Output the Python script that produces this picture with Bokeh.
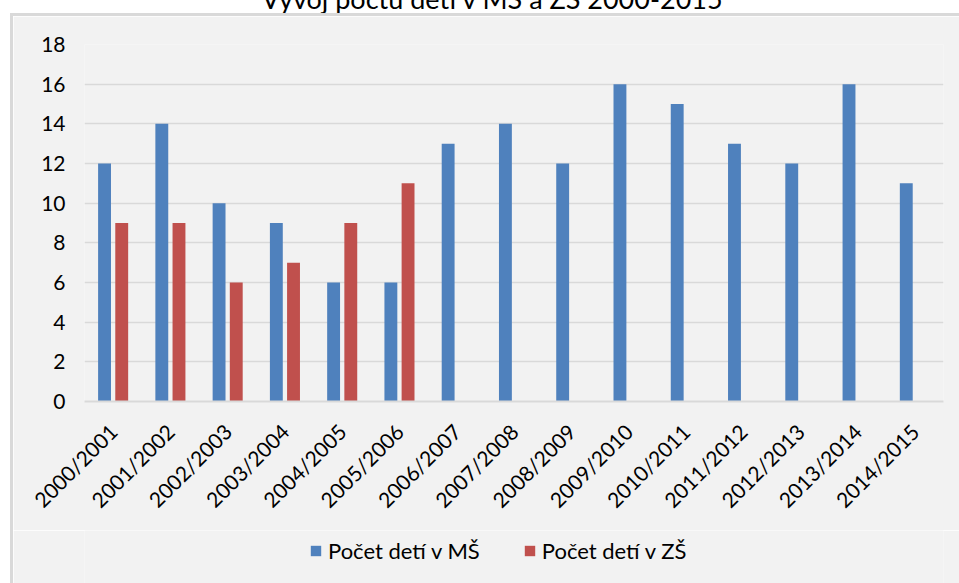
from bokeh.plotting import figure
from bokeh.models import (ColumnDataSource, FactorRange, Range1d, FixedTicker,
                          Legend, LegendItem, Div, Spacer)
from bokeh.layouts import column, row
from bokeh.transform import dodge
from bokeh.embed import file_html
from bokeh.resources import INLINE
import math

# ---- data ----
categories = ["2000/2001", "2001/2002", "2002/2003", "2003/2004", "2004/2005",
              "2005/2006", "2006/2007", "2007/2008", "2008/2009", "2009/2010",
              "2010/2011", "2011/2012", "2012/2013", "2013/2014", "2014/2015"]
ms_values = [12, 14, 10, 9, 6, 6, 13, 14, 12, 16, 15, 13, 12, 16, 11]
zs_categories = ["2000/2001", "2001/2002", "2002/2003", "2003/2004", "2004/2005", "2005/2006"]
zs_values = [9, 9, 6, 7, 9, 11]
y_ticks = [0, 2, 4, 6, 8, 10, 12, 14, 16, 18]
title_text = "Vývoj počtu detí v MŠ a ZŠ 2000-2015"
series_names = ["Počet detí v MŠ", "Počet detí v ZŠ"]

BLUE = "#4f81bd"
RED = "#c0504d"
PANEL = "#f2f2f2"
LINE = "#d9d9d9"
FONT = "Lato"

FW = 946          # width of the panel content (page x 13 .. 959)
FH_CHART = 514    # page y 16 .. 530
FH_LEG = 53       # page y 530 .. 583

ms_src = ColumnDataSource(dict(cat=categories, val=ms_values))
zs_src = ColumnDataSource(dict(cat=zs_categories, val=zs_values))

# ---------------- main chart ----------------
p = figure(width=FW, height=FH_CHART,
           x_range=FactorRange(factors=categories, range_padding=0),
           y_range=Range1d(0, 18), output_backend="svg", toolbar_location=None,
           title=None, min_border_left=71, min_border_right=16,
           min_border_top=28, min_border_bottom=129, margin=0)

p.background_fill_color = PANEL
p.border_fill_color = PANEL
p.outline_line_color = None

p.vbar(x=dodge("cat", -0.15, range=p.x_range), top="val", width=0.225,
       source=ms_src, fill_color=BLUE, line_color=None)
p.vbar(x=dodge("cat", 0.15, range=p.x_range), top="val", width=0.225,
       source=zs_src, fill_color=RED, line_color=None)

p.xgrid.grid_line_color = None
p.ygrid.grid_line_color = LINE
p.ygrid.grid_line_width = 1.5

p.yaxis.ticker = FixedTicker(ticks=y_ticks)
p.yaxis.axis_line_color = None
p.yaxis.major_tick_line_color = None
p.yaxis.major_tick_out = 0
p.yaxis.major_tick_in = 0
p.yaxis.minor_tick_line_color = None
p.yaxis.major_label_standoff = 19
p.yaxis.major_label_text_font = FONT
p.yaxis.major_label_text_font_size = "21px"
p.yaxis.major_label_text_color = "black"

p.xaxis.axis_line_color = LINE
p.xaxis.axis_line_width = 2
p.xaxis.major_tick_line_color = None
p.xaxis.major_tick_out = 0
p.xaxis.major_tick_in = 0
p.xaxis.minor_tick_line_color = None
p.xaxis.major_label_orientation = math.pi / 4
p.xaxis.major_label_standoff = 26
p.xaxis.major_label_text_font = FONT
p.xaxis.major_label_text_font_size = "21px"
p.xaxis.major_label_text_color = "black"

# ---------------- legend strip (below the chart, same panel) ----------------
lf = figure(width=FW, height=FH_LEG,
            x_range=FactorRange(factors=categories, range_padding=0),
            y_range=Range1d(0, 18),
            x_axis_type=None, y_axis_type=None, output_backend="svg",
            toolbar_location=None, title=None, min_border=0, margin=0)
lf.background_fill_color = PANEL
lf.border_fill_color = PANEL
lf.outline_line_color = None
lf.xgrid.grid_line_color = None
lf.ygrid.grid_line_color = None
# hidden copies of the two series, only used to draw the legend swatches
lr1 = lf.vbar(x="cat", top="val", width=0.225, source=ms_src,
              fill_color=BLUE, line_color=None, visible=False)
lr2 = lf.vbar(x="cat", top="val", width=0.225, source=zs_src,
              fill_color=RED, line_color=None, visible=False)

legend = Legend(items=[LegendItem(label=series_names[0], renderers=[lr1]),
                       LegendItem(label=series_names[1], renderers=[lr2])],
                orientation="horizontal", location=(225, 19),
                glyph_width=13, glyph_height=13, label_standoff=6, spacing=43,
                padding=0, margin=0, border_line_color=None,
                background_fill_alpha=0, label_text_font=FONT,
                label_text_font_size="22px", label_text_color="black",
                label_height=13)
lf.add_layout(legend, "center")

# ---------------- title strip and panel border ----------------
title_div = Div(
    text=('<div style="position:relative; top:-15px; width:959px; font-family:Lato; '
          'font-size:27px; line-height:27px; text-align:center; text-indent:25px; '
          'white-space:nowrap; color:black;">' + title_text + '</div>'),
    width=959, height=13, margin=0,
    styles={"overflow": "hidden", "background-color": "white"})

left_white = Spacer(width=10, height=570, margin=0, styles={"background-color": "white"})
left_border = Spacer(width=3, height=FH_CHART + FH_LEG, margin=0,
                     styles={"background-color": LINE})
top_border = Spacer(width=949, height=3, margin=0, styles={"background-color": LINE})

layout = column(title_div,
                row(left_white,
                    column(top_border,
                           row(left_border, column(p, lf, spacing=0), spacing=0),
                           spacing=0),
                    spacing=0),
                spacing=0)

open("out.html", "w").write(file_html(layout, INLINE))
